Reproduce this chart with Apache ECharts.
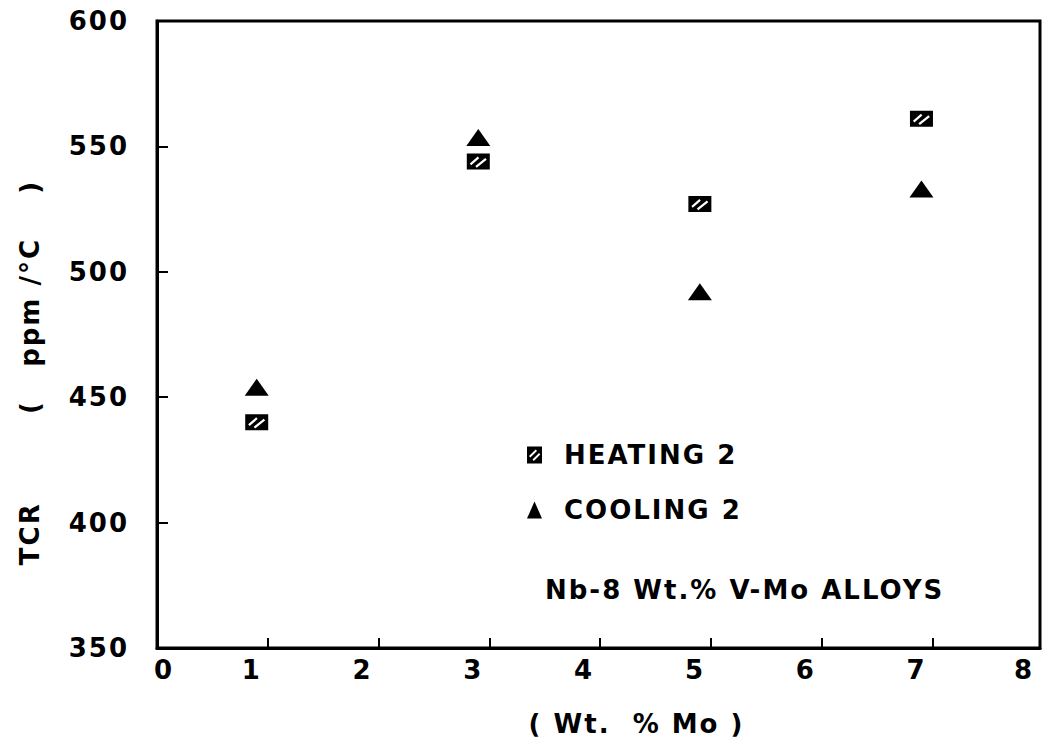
<!DOCTYPE html>
<html>
<head>
<meta charset="utf-8">
<script src="https://cdn.jsdelivr.net/npm/echarts@6/dist/echarts.min.js"></script>
<style>
  html, body { margin: 0; padding: 0; background: #fff; }
  #chart { width: 1043px; height: 742px; }
  #chart text { letter-spacing: 2px; }
</style>
</head>
<body>
<div id="chart"></div>
<script>
// Data
const moContent = [1, 3, 5, 7];            // wt.% Mo
const heating2 = [440, 544, 527, 561];      // TCR ppm/°C, heating 2
const cooling2 = [454, 553.5, 492, 533];    // TCR ppm/°C, cooling 2
const seriesNames = ['HEATING 2', 'COOLING 2'];
const xAxisTitle = '( Wt.  % Mo )';
const yAxisTitle = 'TCR        (   ppm /°C    )';
const noteText = 'Nb-8 Wt.% V-Mo ALLOYS';

const hatchedSquare = 'path://M0 0L23 0L23 16L0 16Z M3 10L4.4 11.7L12.4 4.7L11 3Z M8.5 12.5L9.9 14.2L19.9 6.2L18.5 4.5Z';
const hatchedLegend = 'path://M0 0L15 0L15 17L0 17Z M2 9.5L3.3 11L10 4.5L8.7 3Z M5.5 13L6.8 14.5L13.3 8L12 6.5Z';
const font = { fontFamily: 'DejaVu Sans', fontWeight: 'bold', fontSize: 26, color: '#000' };
const xOffset = 0.1; // x axis starts slightly right of 0 (ticks offset from labels in original plot)

const chart = echarts.init(document.getElementById('chart'), null, { renderer: 'svg' });
chart.setOption({
  backgroundColor: '#fff',
  animation: false,
  title: {
    text: noteText,
    left: 545, top: 577, padding: 0,
    textStyle: Object.assign({}, font, { lineHeight: 26 })
  },
  legend: {
    orient: 'vertical',
    left: 527, top: 442, padding: 0,
    itemWidth: 15, itemHeight: 17, itemGap: 29,
    textStyle: Object.assign({}, font, { lineHeight: 26, padding: [0, 0, 0, 17] }),
    data: [
      { name: seriesNames[0], icon: hatchedLegend },
      { name: seriesNames[1], icon: 'triangle' }
    ]
  },
  grid: {
    left: 157, right: 3, top: 21, bottom: 93,
    show: true, borderColor: '#000', borderWidth: 3, backgroundColor: 'transparent'
  },
  xAxis: {
    type: 'value',
    min: xOffset, max: 8.07, interval: 1,
    splitLine: { show: false },
    axisLine: { show: true, lineStyle: { color: '#000', width: 3 } },
    axisTick: { show: true, inside: true, length: 10, lineStyle: { color: '#000', width: 2 } },
    axisLabel: Object.assign({}, font, {
      margin: 9,
      padding: [0, 32, 0, 0],
      formatter: function (v) {
        const n = Math.round(v - xOffset);
        return n === 0 ? '{z|0}' : String(n);
      },
      rich: { z: Object.assign({}, font, { padding: [0, 0, 0, 46] }) }
    }),
    name: xAxisTitle,
    nameLocation: 'middle',
    nameGap: 63,
    nameTextStyle: Object.assign({}, font, { lineHeight: 26, padding: [0, 0, 0, 76] })
  },
  yAxis: {
    type: 'value',
    min: 350, max: 600, interval: 50,
    splitLine: { show: false },
    axisLine: { show: true, lineStyle: { color: '#000', width: 3 } },
    axisTick: { show: true, inside: true, length: 11, lineStyle: { color: '#000', width: 2 } },
    axisLabel: Object.assign({}, font, { margin: 28 }),
    name: yAxisTitle,
    nameLocation: 'middle',
    nameGap: 114,
    nameTextStyle: Object.assign({}, font, { lineHeight: 26, padding: [0, 76, 0, 0] })
  },
  series: [
    {
      name: seriesNames[0],
      type: 'scatter',
      symbol: hatchedSquare,
      symbolSize: [23, 16],
      itemStyle: { color: '#000', opacity: 1 },
      data: moContent.map((x, i) => [x, heating2[i]])
    },
    {
      name: seriesNames[1],
      type: 'scatter',
      symbol: 'triangle',
      symbolSize: [24, 17],
      itemStyle: { color: '#000', opacity: 1 },
      data: moContent.map((x, i) => [x, cooling2[i]])
    }
  ]
});
</script>
</body>
</html>
